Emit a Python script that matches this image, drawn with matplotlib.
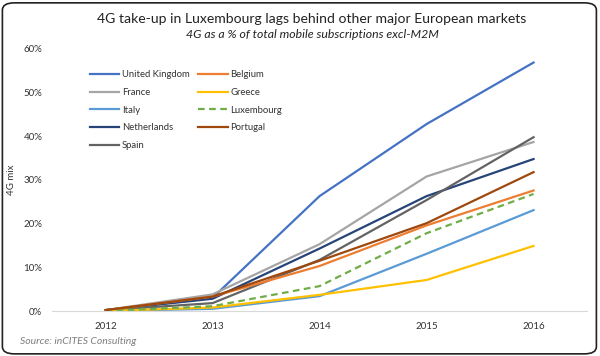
import matplotlib
matplotlib.use("Agg")
import matplotlib.pyplot as plt
from matplotlib.patches import FancyBboxPatch

plt.rcParams['font.family'] = ['Lato', 'DejaVu Sans']

years = [2012, 2013, 2014, 2015, 2016]
uk = [0.2, 3.0, 26.3, 42.8, 56.9]
belgium = [0.2, 3.3, 10.3, 19.6, 27.6]
france = [0.2, 3.8, 15.3, 30.8, 38.7]
greece = [0.0, 0.8, 3.7, 7.1, 14.9]
italy = [0.0, 0.5, 3.4, 13.1, 23.1]
luxembourg = [0.0, 1.1, 5.7, 17.8, 26.8]
netherlands = [0.2, 2.8, 14.3, 26.3, 34.8]
portugal = [0.2, 3.3, 11.5, 20.1, 31.8]
spain = [0.2, 1.8, 11.7, 25.4, 39.8]

series = [
    ("United Kingdom", uk, "#4472C4", "-"),
    ("France", france, "#A5A5A5", "-"),
    ("Italy", italy, "#5B9BD5", "-"),
    ("Netherlands", netherlands, "#264478", "-"),
    ("Spain", spain, "#636363", "-"),
    ("Belgium", belgium, "#ED7D31", "-"),
    ("Greece", greece, "#FFC000", "-"),
    ("Luxembourg", luxembourg, "#70AD47", (0, (3, 2))),
    ("Portugal", portugal, "#9E480E", "-"),
]

fig = plt.figure(figsize=(6, 3.56), dpi=100)
ax = fig.add_axes([0.0867, 0.1264, 0.8917, 0.736])

for name, vals, col, ls in series:
    ax.plot(years, vals, color=col, lw=1.6, ls=ls, label=name)

ax.set_xlim(2011.5, 2016.5)
ax.set_ylim(0, 60)
ax.set_xticks(years)
ax.set_xticklabels([str(y) for y in years])
ax.set_yticks(range(0, 61, 10))
ax.set_yticklabels([f"{v}%" for v in range(0, 61, 10)])
for s in ['top', 'right', 'left']:
    ax.spines[s].set_visible(False)
ax.spines['bottom'].set_color('#D9D9D9')
ax.tick_params(axis='both', length=0, labelsize=7, colors='#333333', pad=8)
ax.tick_params(axis='y', pad=7)
ax.set_ylabel("4G mix", fontsize=7, color='#333333')
ax.yaxis.set_label_coords(-0.068, 0.5)

leg = ax.legend(ncol=2, loc='upper left', bbox_to_anchor=(0.064, 0.933), frameon=False,
                fontsize=6.8, handlelength=3.1, handletextpad=0.3, columnspacing=0.9,
                labelspacing=0.92, borderaxespad=0)
for t in leg.get_texts():
    t.set_color('#333333')

fig.text(0.52, 0.948, "4G take-up in Luxembourg lags behind other major European markets",
         ha='center', va='center', fontsize=10.1, color='#222222')
fig.text(0.52, 0.902, "4G as a % of total mobile subscriptions excl-M2M",
         ha='center', va='center', fontsize=8.8, style='italic', color='#222222')
fig.text(0.033, 0.04, "Source: inCITES Consulting", ha='left', va='center',
         fontsize=7.5, style='italic', color='#7F7F7F')

border = FancyBboxPatch((0.004, 0.006), 0.99, 0.986, boxstyle="round,pad=0,rounding_size=0.02",
                        transform=fig.transFigure, fill=False, edgecolor='#222222', lw=1.2)
fig.patches.append(border)

fig.savefig("out.png", dpi=100)
